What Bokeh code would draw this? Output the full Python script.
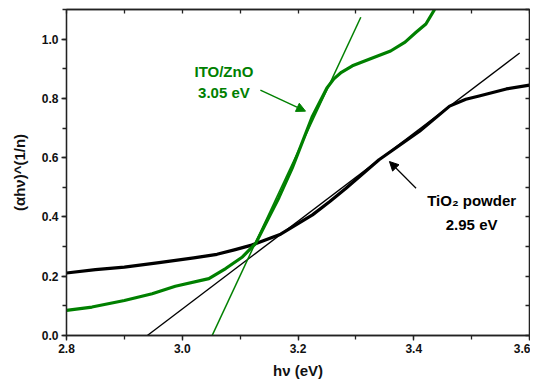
from bokeh.plotting import figure
from bokeh.models import (Range1d, LinearAxis, SingleIntervalTicker, NumeralTickFormatter,
                          CustomJSTickFormatter, Arrow, NormalHead, ColumnDataSource)
from bokeh.core.properties import value
from bokeh.embed import file_html
from bokeh.resources import INLINE

# ---- data ----
tio2_x = [2.80, 2.85, 2.90, 2.96, 3.02, 3.06, 3.09, 3.12, 3.17, 3.225, 3.255, 3.283, 3.34,
          3.41, 3.462, 3.49, 3.513, 3.56, 3.60]
tio2_y = [0.211, 0.222, 0.231, 0.246, 0.262, 0.274, 0.289, 0.305, 0.342, 0.407, 0.452, 0.497,
          0.593, 0.689, 0.774, 0.797, 0.808, 0.832, 0.845]

zno_x = [2.80, 2.844, 2.90, 2.948, 2.988, 3.046, 3.075, 3.104, 3.127, 3.15, 3.167, 3.19,
         3.225, 3.250, 3.262, 3.275, 3.294, 3.323, 3.36, 3.385, 3.404, 3.421, 3.436]
zno_y = [0.085, 0.096, 0.118, 0.141, 0.166, 0.192, 0.226, 0.265, 0.311, 0.400, 0.465,
         0.565, 0.740, 0.835, 0.866, 0.888, 0.910, 0.932, 0.960, 0.990, 1.023, 1.051, 1.100]

# tangent (band-gap) lines: endpoints
tio2_fit_x = [2.935, 3.583]
tio2_fit_y = [-0.007, 0.953]
zno_fit_x = [3.050, 3.3085]
zno_fit_y = [-0.007, 1.074]

# annotations
label_x = [3.072, 3.072, 3.5, 3.5]
label_y = [0.892, 0.820, 0.456, 0.376]
label_text = ["ITO/ZnO", "3.05 eV", "TiO\u2082 powder", "2.95 eV"]
label_color = ["#008000", "#008000", "#000000", "#000000"]

zno_arrow = dict(x_start=3.135, y_start=0.828, x_end=3.213, y_end=0.757)
tio2_arrow = dict(x_start=3.404, y_start=0.497, x_end=3.358, y_end=0.587)

GREEN = "#008000"
FONT = "Liberation Sans"
AX = "#222222"

p = figure(width=530, height=381, output_backend="svg", toolbar_location=None,
           x_range=Range1d(2.8, 3.6), y_range=Range1d(0.0, 1.1),
           min_border_left=66, min_border_right=1, min_border_top=9, min_border_bottom=46,
           background_fill_color="white", border_fill_color="white")
p.grid.visible = False
p.outline_line_color = AX
p.outline_line_width = 1.3

# bottom / left axes
p.xaxis.ticker = SingleIntervalTicker(interval=0.2, num_minor_ticks=2)
p.yaxis.ticker = SingleIntervalTicker(interval=0.2, num_minor_ticks=2)
p.xaxis.formatter = NumeralTickFormatter(format="0.0")
p.yaxis.formatter = NumeralTickFormatter(format="0.0")
for ax in (p.xaxis[0], p.yaxis[0]):
    ax.axis_line_color = AX
    ax.axis_line_width = 1.3
    ax.major_tick_line_color = AX
    ax.minor_tick_line_color = AX
    ax.major_tick_line_width = 1.3
    ax.minor_tick_line_width = 1.3
    ax.major_tick_in = 0
    ax.major_tick_out = 5
    ax.minor_tick_in = 0
    ax.minor_tick_out = 4
    ax.major_label_text_font = FONT
    ax.major_label_text_font_style = "bold"
    ax.major_label_text_font_size = "12px"
    ax.major_label_text_color = "#111111"
    ax.axis_label_text_font = FONT
    ax.axis_label_text_font_style = "bold"
    ax.axis_label_text_font_size = "15px"
    ax.axis_label_text_color = "#111111"
    ax.major_label_standoff = 3
p.xaxis.axis_label = "h\u03bd (eV)"
p.yaxis.axis_label = "(\u03b1h\u03bd)^(1/n)"
p.xaxis.axis_label_standoff = 6
p.yaxis.axis_label_standoff = 11
p.yaxis.major_label_orientation = "horizontal"

# top / right axes with inward ticks only
for loc in ("above", "right"):
    ax = LinearAxis(ticker=SingleIntervalTicker(interval=0.1, num_minor_ticks=0),
                    formatter=CustomJSTickFormatter(code="return ''"),
                    major_label_standoff=0,
                    major_tick_in=4, major_tick_out=0, minor_tick_in=0, minor_tick_out=0,
                    axis_line_color=AX, axis_line_width=1.3,
                    major_tick_line_color=AX, major_tick_line_width=1.3)
    p.add_layout(ax, loc)

# data curves
p.line(tio2_fit_x, tio2_fit_y, line_color="black", line_width=1.3)
p.line(tio2_x, tio2_y, line_color="black", line_width=3.2, line_join="round")
p.line(zno_x, zno_y, line_color=GREEN, line_width=3.2, line_join="round")
p.line(zno_fit_x, zno_fit_y, line_color=GREEN, line_width=1.5)

# arrows
p.add_layout(Arrow(end=NormalHead(size=9, fill_color=GREEN, line_color=GREEN, line_width=1),
                   line_color=GREEN, line_width=1.4, **zno_arrow))
p.add_layout(Arrow(end=NormalHead(size=9, fill_color="black", line_color="black", line_width=1),
                   line_color="black", line_width=1.2, **tio2_arrow))

# labels
src = ColumnDataSource(dict(x=label_x, y=label_y, t=label_text, c=label_color))
p.text(x="x", y="y", text="t", text_color="c", source=src, text_align="center",
       text_baseline="middle", text_font=value(FONT), text_font_style="bold",
       text_font_size="15px")

open("out.html", "w").write(file_html(p, INLINE))
